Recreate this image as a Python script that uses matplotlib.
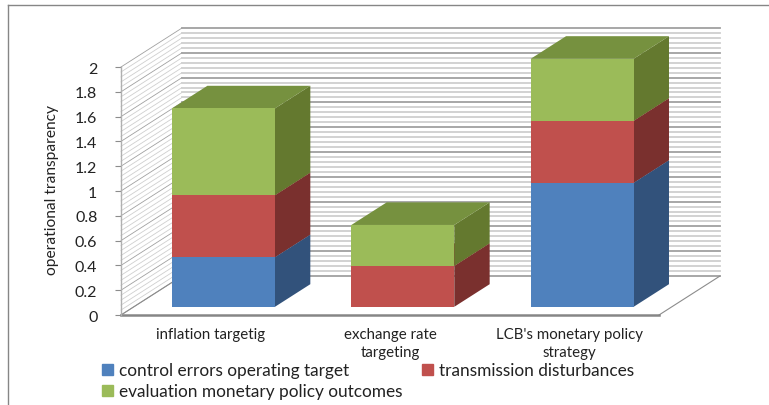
import matplotlib
matplotlib.use("Agg")
import matplotlib.pyplot as plt
from matplotlib.patches import Patch
from matplotlib.lines import Line2D
import numpy as np

categories = ["inflation targetig", "exchange rate\ntargeting", "LCB's monetary policy\nstrategy"]
control_errors = [0.40, 0.00, 1.00]
transmission = [0.50, 0.33, 0.50]
evaluation = [0.70, 0.33, 0.50]
series_names = ["control errors operating target", "transmission disturbances", "evaluation monetary policy outcomes"]
y_ticks = [0, 0.2, 0.4, 0.6, 0.8, 1, 1.2, 1.4, 1.6, 1.8, 2]
y_tick_labels = ["0", "0.2", "0.4", "0.6", "0.8", "1", "1.2", "1.4", "1.6", "1.8", "2"]

W, H = 769, 406
FONT = "Lato"
plt.rcParams["font.family"] = [FONT, "DejaVu Sans"]

front = ["#4F81BD", "#C0504D", "#9BBB59"]
side = ["#32527B", "#7A302E", "#64792F"]
top = ["#3E6797", "#9A3F3C", "#76913F"]

fig = plt.figure(figsize=(W / 100, H / 100), dpi=100, facecolor="white")
L, R, Y0, Y2 = 121, 659, 316, 68
ax = fig.add_axes([L / W, 1 - Y0 / H, (R - L) / W, (Y0 - Y2) / H])
ax.set_xlim(-0.5, 2.5)
ax.set_ylim(0, 2)
ax.patch.set_alpha(0)
for s in ax.spines.values():
    s.set_visible(False)

# oblique projection of the depth axis, in data units
px_x = 3 / (R - L)
px_y = 2 / (Y0 - Y2)
DX = 61 * px_x
DY = 39 * px_y


def proj(x, y, d):
    return x + d * DX, y + d * DY


# walls
for v in np.arange(0, 2.001, 0.04):
    major = abs(v / 0.2 - round(v / 0.2)) < 1e-6
    c = "#a0a0a0" if major else "#cfcfcf"
    x0, y0 = proj(-0.5, v, 0)
    x1, y1 = proj(-0.5, v, 1)
    ax.plot([x0, x1], [y0, y1], color=c, lw=0.6, clip_on=False, zorder=1)
    x2, y2 = proj(2.5, v, 1)
    ax.plot([x1, x2], [y1, y2], color=c, lw=1.3, clip_on=False, zorder=1)

# floor and axes
ax.plot(*zip(proj(2.5, 0, 0), proj(2.5, 0, 1)), color="#8c8c8c", lw=0.8, clip_on=False, zorder=1)
ax.plot(*zip(proj(-0.5, 0, 0), proj(-0.5, 0, 1)), color="#8c8c8c", lw=0.8, clip_on=False, zorder=1)
ax.plot([-0.5, 2.5], [0, 0], color="#868686", lw=1.8, clip_on=False, zorder=2)
ax.plot([-0.5, -0.5], [0, 2], color="#b0b0b0", lw=1.0, clip_on=False, zorder=2)

# stacked 3D bars
D0, D1 = 0.21, 0.79
BW = 0.574
stacks = np.array([control_errors, transmission, evaluation])
bottoms = np.vstack([np.zeros(3), np.cumsum(stacks, axis=0)[:-1]])
for i in range(3):
    xl, xr = i - BW / 2, i + BW / 2
    for k in range(3):
        h = stacks[k, i]
        if h <= 0:
            continue
        b, t = bottoms[k, i], bottoms[k, i] + h
        fx, fy = zip(proj(xl, b, D0), proj(xr, b, D0), proj(xr, t, D0), proj(xl, t, D0))
        sx, sy = zip(proj(xr, b, D0), proj(xr, b, D1), proj(xr, t, D1), proj(xr, t, D0))
        tx, ty = zip(proj(xl, t, D0), proj(xr, t, D0), proj(xr, t, D1), proj(xl, t, D1))
        ax.fill(sx, sy, color=side[k], lw=0, clip_on=False, zorder=3 + k)
        ax.fill(tx, ty, color=top[k], lw=0, clip_on=False, zorder=3 + k)
        ax.fill(fx, fy, color=front[k], lw=0, clip_on=False, zorder=3 + k)

ax.set_yticks(y_ticks)
ax.set_yticklabels(y_tick_labels, fontsize=11.5, color="#222222")
ax.tick_params(axis="y", length=4, width=0.8, color="#8c8c8c", pad=13)
ax.set_xticks(range(3))
ax.set_xticklabels(categories, fontsize=10.8, color="#222222", linespacing=1.3)
ax.tick_params(axis="x", length=0, pad=9)
ax.set_ylabel("operational transparency", fontsize=11.2, color="#222222")
ax.yaxis.set_label_coords((59 - L) / (R - L), 0.51)

handles = [Patch(color=front[0]), Patch(color=front[2]), Patch(color=front[1])]
labels = [series_names[0], series_names[2], series_names[1]]
fig.legend(handles, labels, ncol=2, frameon=False, fontsize=12.4,
           loc="upper left", bbox_to_anchor=(102 / W, 1 - 363.5 / H),
           handlelength=0.65, handleheight=0.65, handletextpad=0.35,
           columnspacing=1.1, labelspacing=0.28, borderpad=0, borderaxespad=0,
           labelcolor="#222222")

# picture frame
fig.add_artist(Line2D(np.array([8, 8]) / W, 1 - np.array([406, 6]) / H, color="#868686", lw=1.0))
fig.add_artist(Line2D(np.array([8, 769]) / W, 1 - np.array([6, 6]) / H, color="#868686", lw=1.0))

fig.savefig("out.png", dpi=100, facecolor="white")
